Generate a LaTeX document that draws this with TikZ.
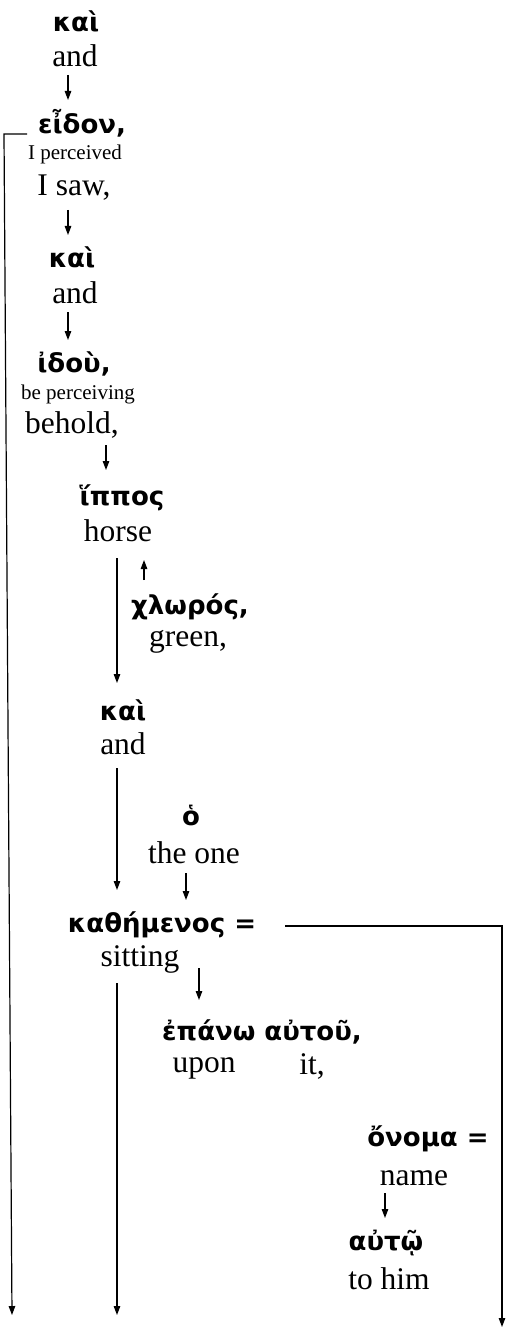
\documentclass[tikz,border=0pt]{standalone}
\usepackage{fontspec}
\setmainfont{Liberation Serif}
\newfontfamily\grk{DejaVu Sans}
\usetikzlibrary{calc,arrows.meta}
\tikzset{
  >={Triangle[length=9pt,width=6.5pt]},
  my word/.style={inner sep=0pt,anchor=base},
  gk word/.style={my word,font=\grk\bfseries\fontsize{26}{30}\selectfont},
  en word/.style={my word,font=\fontsize{31.5}{36}\selectfont},
  en small/.style={my word,font=\fontsize{21}{25}\selectfont},
  my arrow/.style={->,line width=1.2pt},
  my line/.style={line width=1.2pt}
}
\begin{document}
\begin{tikzpicture}[x=1pt,y=-1pt]
\useasboundingbox (0,0) rectangle (507,1329);
% words, top to bottom
\node (kaiA)      [gk word]  at (76,32)    {καὶ};
\node (andA)      [en word]  at (75,67)    {and};
\node (eidon)     [gk word]  at (82,134)   {εἶδον,};
\node (perceived) [en small] at (75,160)   {I perceived};
\node (saw)       [en word]  at (74,196)   {I saw,};
\node (kaiB)      [gk word]  at (72,268)   {καὶ};
\node (andB)      [en word]  at (75,304)   {and};
\node (idou)      [gk word]  at (74,372)   {ἰδοὺ,};
\node (beperc)    [en small] at (78,399)   {be perceiving};
\node (behold)    [en word]  at (72,433)   {behold,};
\node (hippos)    [gk word]  at (122,505)  {ἵππος};
\node (horse)     [en word]  at (118,541)  {horse};
\node (chloros)   [gk word]  at (190,614)  {χλωρός,};
\node (green)     [en word]  at (188,646)  {green,};
\node (kaiC)      [gk word]  at (123,720)  {καὶ};
\node (andC)      [en word]  at (123,754)  {and};
\node (ho)        [gk word]  at (191,825)  {ὁ};
\node (theone)    [en word]  at (194,863)  {the one};
\node (kath)      [gk word]  at (162,932)  {καθήμενος =};
\node (sitting)   [en word]  at (140,966)  {sitting};
\node (epano)     [gk word]  at (262,1040) {ἐπάνω αὐτοῦ,};
\node (upon)      [en word]  at (204,1072) {upon};
\node (it)        [en word]  at (312,1074) {it,};
\node (onoma)     [gk word]  at (428,1146) {ὄνομα =};
\node (name)      [en word]  at (414,1185) {name};
\node (autw)      [gk word]  at (386,1250) {αὐτῷ};
\node (tohim)     [en word]  at (389,1289) {to him};
% free ends
\coordinate (cornerL) at (4,134);
\coordinate (endL)    at (12,1315);
\coordinate (endS)    at (117,1315);
\coordinate (endR)    at (502,1327);
% short arrows
\draw[my arrow] ($(andA.base)+(-7,8)$)     -- ($(eidon.base)+(-14,-34)$);
\draw[my arrow] ($(saw.base)+(-6,14)$)     -- ($(kaiB.base)+(-4,-33)$);
\draw[my arrow] ($(andB.base)+(-7,8)$)     -- ($(idou.base)+(-6,-32)$);
\draw[my arrow] ($(behold.base)+(34,12)$)  -- ($(hippos.base)+(-16,-35)$);
\draw[my arrow] ($(horse.base)+(-1,17)$)   -- ($(kaiC.base)+(-6,-37)$);
\draw[my arrow] ($(chloros.base)+(-46,-34)$) -- ($(hippos.base)+(22,55)$);
\draw[my arrow] ($(andC.base)+(-6,14)$)    -- ($(kath.base)+(-45,-42)$);
\draw[my arrow] ($(theone.base)+(-8,10)$)  -- ($(kath.base)+(24,-32)$);
\draw[my arrow] ($(sitting.base)+(59,2)$)  -- ($(epano.base)+(-63,-40)$);
\draw[my arrow] ($(name.base)+(-29,8)$)    -- ($(autw.base)+(-1,-32)$);
% long arrows
\draw[my arrow] ($(sitting.base)+(-23,17)$) -- (endS);
\draw[my arrow] ($(kath.base)+(123,-6)$) -| (endR);
\draw[my arrow] ($(eidon.base)+(-55,0)$) -- (cornerL) -- (endL);
\end{tikzpicture}
\end{document}
